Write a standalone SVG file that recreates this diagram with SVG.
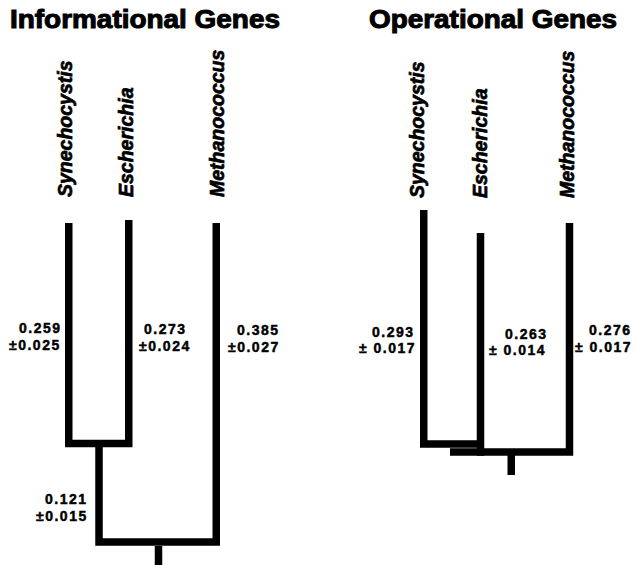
<svg xmlns="http://www.w3.org/2000/svg" width="634" height="565" viewBox="0 0 634 565">
  <style>
    .title { font-family: "Liberation Sans", Arial, sans-serif; font-weight: bold; font-size: 25px; fill: #000; stroke: #000; stroke-width: 1px; }
    .taxon { font-family: "Liberation Sans", Arial, sans-serif; font-weight: bold; font-style: italic; font-size: 19.5px; fill: #000; stroke: #000; stroke-width: 0.7px; }
    .len { font-family: "Liberation Sans", Arial, sans-serif; font-weight: bold; font-size: 14px; letter-spacing: 1.5px; fill: #000; stroke: #000; stroke-width: 0.45px; }
    .branch { fill: none; stroke: #000; stroke-width: 7.5; stroke-linecap: butt; stroke-linejoin: miter; }
  </style>
  <rect width="634" height="565" fill="#fff"/>

  <!-- panel titles -->
  <g id="title-informational">
    <text class="title" x="10" y="28" textLength="270" lengthAdjust="spacingAndGlyphs">Informational Genes</text>
  </g>
  <g id="title-operational">
    <text class="title" x="369" y="28" textLength="248" lengthAdjust="spacingAndGlyphs">Operational Genes</text>
  </g>

  <!-- tree branches -->
  <g id="connectors">
    <!-- informational tree -->
    <path class="branch" d="M68.75,223 V443.5 H128.75 V220"/>
    <path class="branch" d="M99,443.5 V542 H216.25 V223"/>
    <path class="branch" d="M158.5,546 V565"/>
    <!-- operational tree -->
    <path class="branch" d="M423.75,210 V444 H480.5"/>
    <path class="branch" d="M480.5,233 V455.75"/>
    <path class="branch" d="M450,452 H569.5 V223"/>
    <path class="branch" d="M511.25,455 V475"/>
  </g>

  <!-- informational tree leaves -->
  <g id="info-synechocystis">
    <text class="taxon" transform="translate(71.5,197) rotate(-90)">Synechocystis</text>
  </g>
  <g id="info-escherichia">
    <text class="taxon" transform="translate(133,197) rotate(-90)">Escherichia</text>
  </g>
  <g id="info-methanococcus">
    <text class="taxon" transform="translate(224,197) rotate(-90)">Methanococcus</text>
  </g>

  <!-- informational branch lengths -->
  <g id="info-len-synechocystis">
    <text class="len" x="19" y="333">0.259</text>
    <text class="len" x="9" y="350">±0.025</text>
  </g>
  <g id="info-len-escherichia">
    <text class="len" x="144" y="334">0.273</text>
    <text class="len" x="139" y="351">±0.024</text>
  </g>
  <g id="info-len-methanococcus">
    <text class="len" x="237" y="335">0.385</text>
    <text class="len" x="228" y="352">±0.027</text>
  </g>
  <g id="info-len-internal">
    <text class="len" x="45" y="504">0.121</text>
    <text class="len" x="36" y="521">±0.015</text>
  </g>

  <!-- operational tree leaves -->
  <g id="oper-synechocystis">
    <text class="taxon" transform="translate(424,198) rotate(-90)">Synechocystis</text>
  </g>
  <g id="oper-escherichia">
    <text class="taxon" transform="translate(486.5,198) rotate(-90)">Escherichia</text>
  </g>
  <g id="oper-methanococcus">
    <text class="taxon" transform="translate(574,198) rotate(-90)">Methanococcus</text>
  </g>

  <!-- operational branch lengths -->
  <g id="oper-len-synechocystis">
    <text class="len" x="372" y="337">0.293</text>
    <text class="len" x="359" y="353">± 0.017</text>
  </g>
  <g id="oper-len-escherichia">
    <text class="len" x="505" y="339">0.263</text>
    <text class="len" x="489" y="355">± 0.014</text>
  </g>
  <g id="oper-len-methanococcus">
    <text class="len" x="589" y="335">0.276</text>
    <text class="len" x="575" y="352">± 0.017</text>
  </g>
</svg>
